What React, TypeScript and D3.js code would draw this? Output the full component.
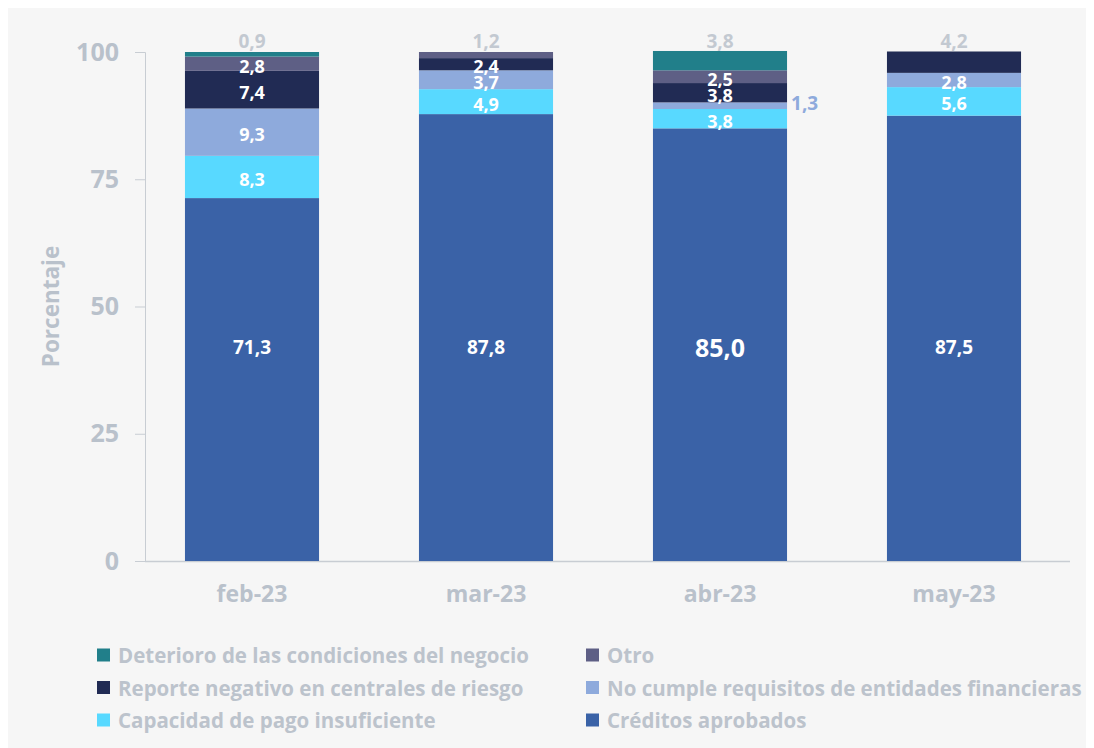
import React, { useRef, useEffect } from "react";
import { select, scaleLinear, scaleBand, axisLeft } from "d3";

// months on the x axis
const months = ["feb-23", "mar-23", "abr-23", "may-23"];

// series, bottom to top of each stack
const creditosAprobados = [71.3, 87.8, 85.0, 87.5];
const capacidadPago = [8.3, 4.9, 3.8, 5.6];
const noCumple = [9.3, 3.7, 1.3, 2.8];
const reporteNegativo = [7.4, 2.4, 3.8, 4.2];
const otro = [2.8, 1.2, 2.5, 0];
const deterioro = [0.9, 0, 3.8, 0];

const seriesNames = [
  "Créditos aprobados",
  "Capacidad de pago insuficiente",
  "No cumple requisitos de entidades financieras",
  "Reporte negativo en centrales de riesgo",
  "Otro",
  "Deterioro de las condiciones del negocio",
];
const seriesValues = [creditosAprobados, capacidadPago, noCumple, reporteNegativo, otro, deterioro];
const seriesColors = ["#3a62a7", "#58d9ff", "#8eaadc", "#212b54", "#5e5f85", "#217f8a"];

// legend order (row by row, two columns)
const legendOrder = [5, 4, 3, 2, 1, 0];

const yTicks = [0, 25, 50, 75, 100];

const W = 1086;
const H = 740;
const FONT = "'Open Sans', Lato, sans-serif";
const GRAY = "#b9c1cb";

const fmt = (v: number) => v.toFixed(1).replace(".", ",");

const App = () => {
  const svgRef = useRef<SVGSVGElement>(null);

  useEffect(() => {
    const svg = select(svgRef.current);
    svg.selectAll("*").remove();

    svg.append("rect").attr("width", W).attr("height", H).attr("fill", "#f6f6f6");

    const y = scaleLinear().domain([0, 100]).range([553, 44]);
    const x = scaleBand()
      .domain(months)
      .range([132.5, 1057.5])
      .paddingInner(0.427)
      .paddingOuter(0.19);

    // y axis
    const yAxis = svg
      .append("g")
      .attr("transform", "translate(137,0)")
      .call(axisLeft(y).tickValues(yTicks).tickSize(10).tickPadding(16));
    yAxis.select(".domain").attr("stroke", "#c8cdd3");
    yAxis.selectAll(".tick line").attr("stroke", "#c8cdd3");
    yAxis
      .selectAll(".tick text")
      .attr("fill", GRAY)
      .style("font-family", FONT)
      .style("font-weight", "700")
      .style("font-size", "25px");

    svg
      .append("text")
      .attr("transform", `translate(42,${y(50)}) rotate(-90)`)
      .attr("text-anchor", "middle")
      .attr("dominant-baseline", "central")
      .attr("fill", GRAY)
      .style("font-family", FONT)
      .style("font-weight", "700")
      .style("font-size", "22.5px")
      .text("Porcentaje");

    // x axis line
    svg
      .append("line")
      .attr("x1", 137)
      .attr("x2", 1062)
      .attr("y1", y(0) + 0.5)
      .attr("y2", y(0) + 0.5)
      .attr("stroke", "#c8cdd3")
      .attr("stroke-width", 1.5);

    svg
      .append("g")
      .selectAll("text")
      .data(months)
      .enter()
      .append("text")
      .attr("x", (d) => (x(d) as number) + x.bandwidth() / 2)
      .attr("y", 585)
      .attr("text-anchor", "middle")
      .attr("dominant-baseline", "central")
      .attr("fill", GRAY)
      .style("font-family", FONT)
      .style("font-weight", "700")
      .style("font-size", "23px")
      .text((d) => d);

    // stacks
    months.forEach((m, i) => {
      let base = 0;
      const g = svg.append("g");
      const x0 = x(m) as number;
      const cx = x0 + x.bandwidth() / 2;
      const top = seriesValues.reduce((s, arr) => s + arr[i], 0);
      seriesValues.forEach((arr, k) => {
        const v = arr[i];
        if (!v) return;
        g.append("rect")
          .attr("x", x0)
          .attr("width", x.bandwidth())
          .attr("y", y(base + v))
          .attr("height", y(base) - y(base + v))
          .attr("fill", seriesColors[k]);

        const isTop = Math.abs(base + v - top) < 0.01 && k > 0;
        const isThin = v < 2;
        let lx = cx;
        let ly = y(base + v / 2) + 2;
        let fill = "#ffffff";
        let size = k === 0 && i === 2 ? 25 : 18;
        if (k === 0) {
          ly = y(42);
          size = i === 2 ? 25 : 19;
        } else if (isTop) {
          ly = y(100) - 11;
          fill = "#c3c9d1";
          size = 19;
        } else if (isThin) {
          lx = x0 + x.bandwidth() + 4;
          ly = y(base + v / 2) - 3;
          fill = seriesColors[k];
          size = 19;
        }
        g.append("text")
          .attr("x", lx)
          .attr("y", ly)
          .attr("text-anchor", isThin && !isTop ? "start" : "middle")
          .attr("dominant-baseline", "central")
          .attr("fill", fill)
          .style("font-family", FONT)
          .style("font-weight", "700")
          .style("font-size", size + "px")
          .text(fmt(v));
        base += v;
      });
    });

    // legend
    const legend = svg.append("g");
    legendOrder.forEach((k, j) => {
      const col = j % 2;
      const row = Math.floor(j / 2);
      const lx = col === 0 ? 89 : 578;
      const ly = 647 + row * 32.5;
      legend
        .append("rect")
        .attr("x", lx)
        .attr("y", ly - 6.5)
        .attr("width", 13)
        .attr("height", 13)
        .attr("fill", seriesColors[k]);
      legend
        .append("text")
        .attr("x", lx + 21)
        .attr("y", ly)
        .attr("dominant-baseline", "central")
        .attr("fill", "#bcc3cc")
        .style("font-family", FONT)
        .style("font-weight", "700")
        .style("font-size", "20.5px")
        .text(seriesNames[k]);
    });
  }, []);

  return <svg ref={svgRef} width={W} height={H} style={{ display: "block" }} />;
};

export default App;
